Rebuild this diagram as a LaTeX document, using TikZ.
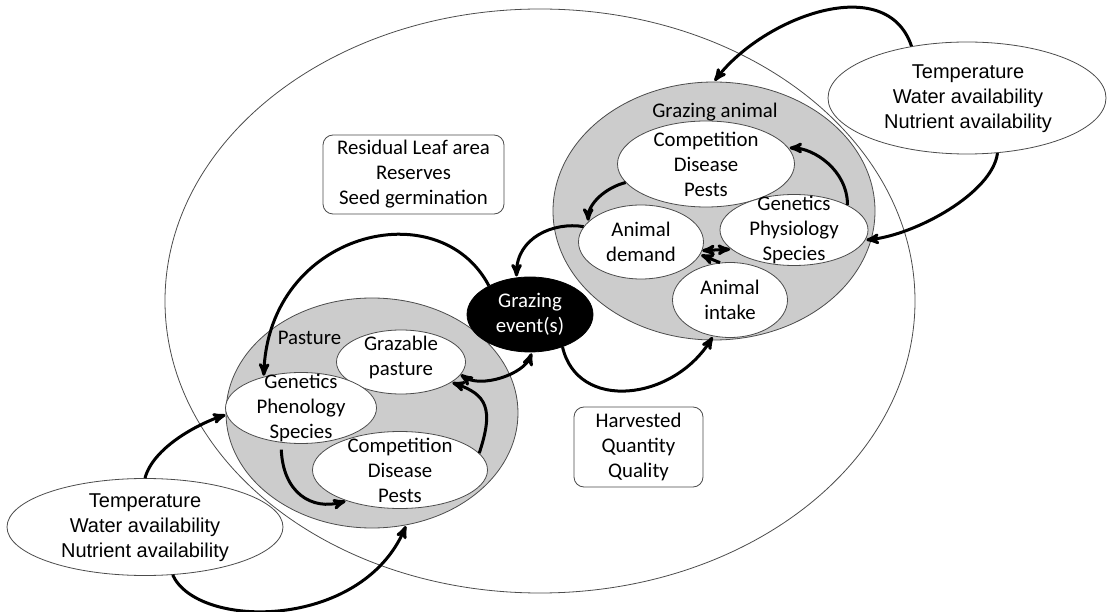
\documentclass[tikz,border=0pt]{standalone}
\usepackage{fontspec}
\setmainfont{Carlito}
\newfontfamily\arialfont{Liberation Sans}
\usetikzlibrary{arrows,shapes.geometric}

\begin{document}
\begin{tikzpicture}[x=1pt,y=-1pt,>=stealth',shorten >=1pt,
      font=\fontsize{20.8}{25}\selectfont]
    \tikzstyle{bubble}=[ellipse,draw=black!70,line width=0.8pt,fill=white,inner sep=0pt]
    \tikzstyle{zone}=[bubble,fill=black!20]
    \tikzstyle{note}=[rectangle,rounded corners=10pt,draw=black!70,line width=0.8pt,
      fill=white,inner sep=0pt,align=center]
    \tikzstyle{txt}=[align=center,inner sep=0pt]
    \tikzstyle{clim}=[txt,font=\arialfont\fontsize{20}{25}\selectfont]
    \tikzstyle{flow}=[->,line width=3pt]
    \tikzstyle{flows}=[<->,line width=3pt]

    \useasboundingbox (0,0) rectangle (1109,612);

    \node[bubble,fill=none,minimum width=750,minimum height=584] (farm) at (540,301) {};
    \node[bubble,minimum width=278,minimum height=112] (climA) at (967,98) {};
    \node[bubble,minimum width=276,minimum height=97]  (climB) at (145,527) {};

    \node[zone,minimum width=322,minimum height=258] (animal)  at (714,211) {};
    \node[zone,minimum width=292,minimum height=230] (pasture) at (372,413) {};

    \node[note,minimum width=181,minimum height=79] (residual) at (413.5,174.5)
      {Residual Leaf area\\Reserves\\Seed germination};
    \node[note,minimum width=129,minimum height=80] (harvest) at (638.5,447)
      {Harvested\\Quantity\\Quality};

    \node[bubble,minimum width=177,minimum height=86] (cdpA)     at (706,164) {};
    \node[bubble,minimum width=125,minimum height=74] (demand)   at (641,242) {};
    \node[bubble,minimum width=148,minimum height=71] (gps)      at (794,230) {};
    \node[bubble,minimum width=115,minimum height=75] (intake)   at (730,300) {};
    \node[bubble,minimum width=129,minimum height=64] (grazable) at (401,362) {};
    \node[bubble,minimum width=151,minimum height=71] (gpp)      at (301,408) {};
    \node[bubble,minimum width=175,minimum height=77] (cdpP)     at (400,470) {};
    \node[bubble,fill=black,draw=black,minimum width=126,minimum height=75] (graze) at (530,314.5) {};

    \node[clim] (climAT) at (968,99)  {Temperature\\Water availability\\Nutrient availability};
    \node[clim] (climBT) at (145,528) {Temperature\\Water availability\\Nutrient availability};
    \node[txt] (cdpAT)     at (cdpA)        {Competition\\Disease\\Pests};
    \node[txt] (demandT)   at (demand)      {Animal\\demand};
    \node[txt] (gpsT)      at (gps)         {Genetics\\Physiology\\Species};
    \node[txt] (intakeT)   at (intake)      {Animal\\intake};
    \node[txt] (grazableT) at (401,357)     {Grazable\\pasture};
    \node[txt] (gppT)      at (gpp)         {Genetics\\Phenology\\Species};
    \node[txt] (cdpPT)     at (cdpP)        {Competition\\Disease\\Pests};
    \node[txt,text=white] (grazeT) at (graze) {Grazing\\event(s)};
    \node[txt] (animalL)   at (715,112)     {Grazing animal};
    \node[txt] (pastureL)  at (309.5,338)   {Pasture};

    \draw[flow] (climA.137) .. controls +(-25,-75) and +(50,-65) .. (animal.north);
    \draw[flow] (climA.-61) .. controls +(-5,40) and +(50,-5) .. (gps.-8);
    \draw[flow] (climB.north) .. controls +(8,-30) and +(-30,10) .. (gpp.185);
    \draw[flow] (climB.-60) .. controls +(25,55) and +(-45,105) .. (pasture.-73);
    \draw[flow] (graze.145) .. controls +(-50,-95) and +(5,-145) .. (gpp.140);
    \draw[flow] (demand.165) .. controls +(-30,-5) and +(0,-40) .. (graze.110);
    \draw[flow] (graze.-45) .. controls +(15,65) and +(-40,65) .. (intake.-115);
    \draw[flows] (grazable.-12) .. controls +(20,14) and +(-8,22) .. (graze.-87);
    \draw[flow] (cdpP.12) .. controls +(15,-45) and +(35,12) .. (grazable.-22);
    \draw[flow,shorten <=7pt] (gpp.-120) .. controls +(2,50) and +(-35,10) .. (cdpP.-150);
    \draw[flow] (cdpA.-167) .. controls +(-20,5) and +(0,-18) .. (demand.159);
    \draw[flow] (gps.25) .. controls +(0,-35) and +(25,0) .. (cdpA.11);
    \draw[flows] (demand.-8) -- (gps.197);
    \draw[flow] (intake.105) -- (demand.-12);
  \end{tikzpicture}
\end{document}
